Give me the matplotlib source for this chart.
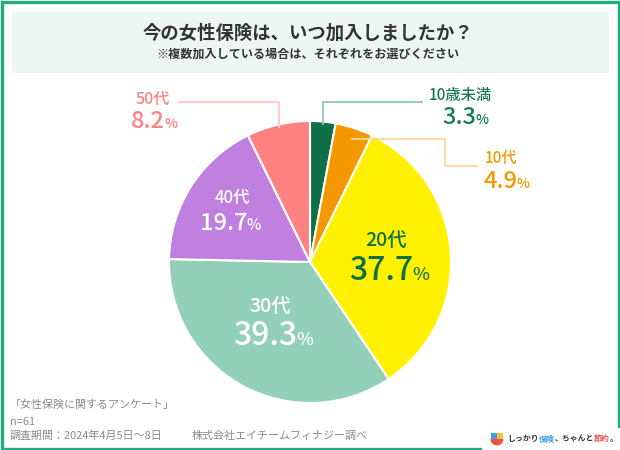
import matplotlib
matplotlib.use("Agg")
import matplotlib.pyplot as plt
from matplotlib.patches import Rectangle, Wedge
import numpy as np

plt.rcParams['font.family'] = ['Noto Sans CJK JP', 'DejaVu Sans']

# ---- data ----
categories = ["10歳未満", "10代", "20代", "30代", "40代", "50代"]
values = [3.3, 4.9, 37.7, 39.3, 19.7, 8.2]
colors = ["#0e7048", "#f39800", "#fff100", "#93d0b9", "#bf80df", "#ff8282"]
title = "今の女性保険は、いつ加入しましたか？"
subtitle = "※複数加入している場合は、それぞれをお選びください"
footer = ["「女性保険に関するアンケート」", "n=61", "調査期間：2024年4月5日～8日"]
credit = "株式会社エイチームフィナジー調べ"

W, H = 620, 450
fig = plt.figure(figsize=(W / 100, H / 100), dpi=100)
ax = fig.add_axes([0, 0, 1, 1])
ax.set_xlim(0, W)
ax.set_ylim(0, H)
ax.axis('off')

def Y(y):
    return H - y

# frame
ax.add_patch(Rectangle((1.5, 1.5), W - 3, H - 3, fill=False, ec="#22ad80", lw=2.4, zorder=1))
# title box
ax.add_patch(Rectangle((12, Y(73)), 597, 61, fc="#eef6f3", ec="none", zorder=1))
ax.text(308, Y(33), title, ha='center', va='center', fontsize=13.2, fontweight='bold', color="#333333", zorder=3)
ax.text(308, Y(54), subtitle, ha='center', va='center', fontsize=8.7, fontweight='bold', color="#333333", zorder=3)

# pie
cx, cy, R = 310, Y(262), 141
wedges, _ = ax.pie(values, colors=colors, startangle=90, counterclock=False,
                   center=(cx, cy), radius=R, frame=True,
                   wedgeprops=dict(edgecolor='white', linewidth=1.5))
ax.set_xlim(0, W)
ax.set_ylim(0, H)
ax.set_aspect('auto')
ax.axis('off')
for w in wedges:
    w.set_zorder(2)

total = sum(values)
cum = np.cumsum([0] + values)
mids = [(cum[i] + cum[i + 1]) / 2 / total * 360 for i in range(len(values))]

def edge_pt(i, frac):
    a = np.deg2rad(mids[i])
    return cx + R * frac * np.sin(a), cy + R * frac * np.cos(a)

# leader lines
x0, y0 = edge_pt(0, 0.975)
ax.plot([x0, x0, 423], [y0, Y(102), Y(102)], color="#93c9b3", lw=1.3, zorder=3, solid_capstyle='butt')
x1, y1 = edge_pt(1, 0.92)
ax.plot([x1, 445, 445, 478], [y1, y1, Y(166), Y(166)], color="#fdd89a", lw=1.3, zorder=3, solid_capstyle='butt')
x5, y5 = edge_pt(5, 0.975)
ax.plot([x5, x5, 178], [y5, Y(102), Y(102)], color="#ffc8c8", lw=1.3, zorder=3, solid_capstyle='butt')

def pct(xr, yb, val, size, psize, color, weight='medium'):
    ax.text(xr, Y(yb), f"{val}", ha='right', va='baseline', fontsize=size,
            color=color, fontweight=weight, zorder=4)
    ax.text(xr - 0.5, Y(yb), "%", ha='left', va='baseline', fontsize=psize,
            color=color, fontweight=weight, zorder=4)

# labels
ax.text(460, Y(100), categories[0], ha='center', va='baseline', fontsize=11, color="#1a7a50", fontweight='medium', zorder=4)
pct(476, 124, values[0], 17, 10, "#1a7a50")
ax.text(501, Y(163), categories[1], ha='center', va='baseline', fontsize=11, color="#f39800", fontweight='medium', zorder=4)
pct(517, 188, values[1], 17, 10, "#f39800")
ax.text(153, Y(104), categories[5], ha='center', va='baseline', fontsize=11.5, color="#ff8282", fontweight='medium', zorder=4)
pct(165, 128, values[5], 17, 10, "#ff8282")

ax.text(386, Y(246), categories[2], ha='center', va='baseline', fontsize=14, color="#0e7048", fontweight='medium', zorder=4)
pct(413, 280, values[2], 23, 13, "#0e7048")
ax.text(270, Y(312), categories[3], ha='center', va='baseline', fontsize=14, color="white", fontweight='medium', zorder=4)
pct(297, 345, values[3], 23, 13, "white")
ax.text(232, Y(203), categories[4], ha='center', va='baseline', fontsize=12, color="white", fontweight='medium', zorder=4)
pct(247, 230, values[4], 17, 11, "white")

# footer
for txt, yy in zip(footer, [405, 422, 436]):
    ax.text(10, Y(yy), txt, ha='left', va='center', fontsize=7.9, color="#8a8a8a", zorder=4)
ax.text(192, Y(436), credit, ha='left', va='center', fontsize=7.9, color="#8a8a8a", zorder=4)

# logo area
ax.add_patch(Rectangle((482, 0), W - 482, Y(428), fc="white", ec="none", zorder=5))
ax.add_patch(Rectangle((491, Y(439)), 6, 6, fc="#3aa0e8", ec="none", zorder=6))
ax.add_patch(Rectangle((497, Y(439)), 6, 6, fc="#f7c531", ec="none", zorder=6))
ax.add_patch(Wedge((497, Y(439)), 6.5, 180, 360, fc="#f05050", ec="none", zorder=6))
lx, ly = 507, Y(439)
parts = [("しっかり", "#333333"), ("保険", "#3aa0e8"), ("、ちゃんと", "#333333"), ("節約", "#f05050"), ("。", "#333333")]
fig.canvas.draw()
r = fig.canvas.get_renderer()
inv = ax.transData.inverted()
for s, c in parts:
    t = ax.text(lx, ly, s, ha='left', va='center', fontsize=5.7, fontweight='bold', color=c, zorder=7)
    bb = t.get_window_extent(renderer=r)
    lx = inv.transform((bb.x1, bb.y0))[0]

fig.savefig("out.png", dpi=100)
